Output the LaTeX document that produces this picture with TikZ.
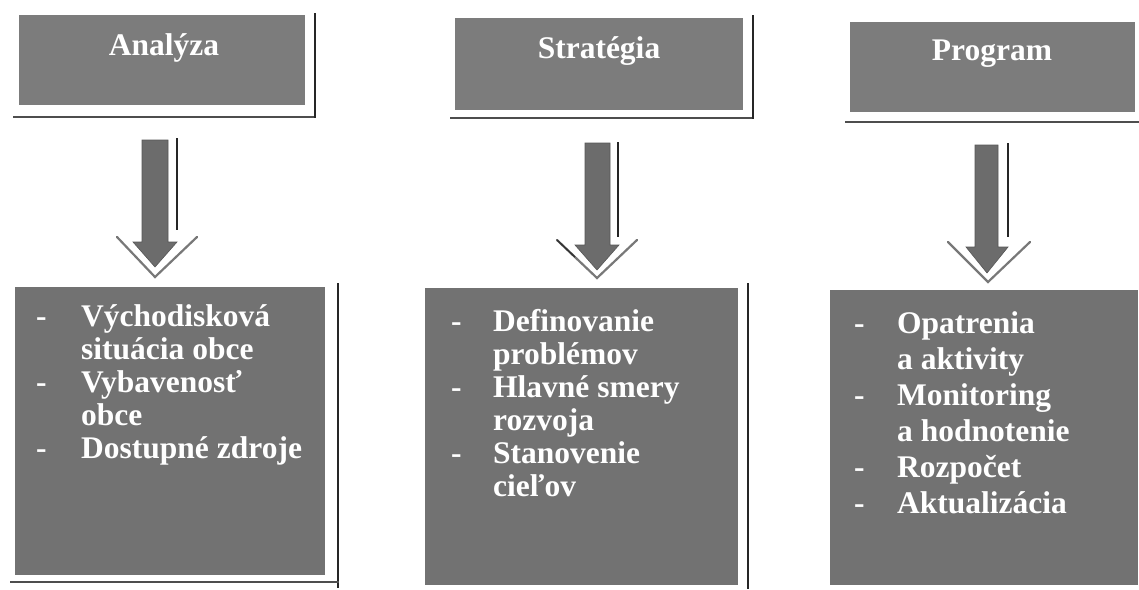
\documentclass[tikz,border=0pt]{standalone}
\usepackage{fontspec}
\setmainfont{Liberation Serif}
\usetikzlibrary{calc}
\definecolor{topgray}{RGB}{124,124,124}
\definecolor{botgray}{RGB}{114,114,114}
\definecolor{shadowgray}{RGB}{78,78,78}
\definecolor{arrowgray}{RGB}{108,108,108}
\definecolor{bevelgray}{RGB}{120,120,120}
\newcommand{\dsh}{\makebox[45pt][l]{-}}
\tikzset{
  topbox/.style={rectangle, fill=topgray, draw=none, inner sep=0pt},
  botbox/.style={rectangle, fill=botgray, draw=none, inner sep=0pt},
  toplabel/.style={text=white, inner sep=0pt, font=\bfseries\fontsize{31.5}{33}\selectfont},
  listtext/.style={text=white, inner sep=0pt, font=\bfseries\fontsize{31.5}{33}\selectfont},
  listtextwide/.style={text=white, inner sep=0pt, font=\bfseries\fontsize{31.5}{36}\selectfont},
  shadowline/.style={draw=shadowgray, line width=2.5pt},
  sideline/.style={draw=black!85, line width=2pt},
  headout/.style={fill=white, draw=none},
  headedge/.style={draw=bevelgray, line width=2.2pt, line cap=round},
  arrowbody/.style={fill=arrowgray, draw=arrowgray!80!black, line width=0.6pt, line join=miter}
}
\begin{document}
\begin{tikzpicture}[x=1pt,y=-1pt]
\useasboundingbox (0,0) rectangle (1139,589);

% ---------- top boxes ----------
\node[topbox, minimum width=286pt, minimum height=90pt] (t1) at (162,60) {};
\node[topbox, minimum width=288pt, minimum height=92pt] (t2) at (599,64) {};
\node[topbox, minimum width=285pt, minimum height=90pt] (t3) at (992.5,67) {};
\node[toplabel, anchor=base] (t1l) at (164,55) {Analýza};
\node[toplabel, anchor=base] (t2l) at (599,58) {Stratégia};
\node[toplabel, anchor=base] (t3l) at (992,60) {Program};

\draw[shadowline] (13,117) -- (316,117);
\draw[sideline] (315,13) -- (315,118);
\draw[shadowline] (450,118) -- (754,118);
\draw[sideline] (753,15) -- (753,119);
\draw[shadowline] (845,122) -- (1139,122);

% ---------- arrows ----------
% arrow 1
\coordinate (a1w) at (117,237);
\coordinate (a1e) at (197,237);
\coordinate (a1t) at (155,277);
\fill[headout] (a1w) -- (a1t) -- (a1e) -- cycle;
\draw[headedge] (a1w) -- (a1t) -- (a1e);
\draw[arrowbody] (142,140) -- (168,140) -- (168,242) -- (177,242) -- (155,267) -- (133,242) -- (142,242) -- cycle;
\draw[sideline] (177,138) -- (177,230);

% arrow 2
\coordinate (a2w) at (557,240);
\coordinate (a2e) at (637,240);
\coordinate (a2t) at (597,278);
\fill[headout] (a2w) -- (a2t) -- (a2e) -- cycle;
\draw[headedge] (a2w) -- (a2t) -- (a2e);
\draw[draw=black!80, line width=1.5pt] (a2w) -- ($(a2w)!0.45!(a2t)$);
\draw[arrowbody] (585,143) -- (610,143) -- (610,245) -- (619,245) -- (597,270) -- (575,245) -- (585,245) -- cycle;
\draw[sideline] (618,142) -- (618,237);

% arrow 3
\coordinate (a3w) at (948,242);
\coordinate (a3e) at (1030,242);
\coordinate (a3t) at (988,282);
\fill[headout] (a3w) -- (a3t) -- (a3e) -- cycle;
\draw[headedge] (a3w) -- (a3t) -- (a3e);
\draw[arrowbody] (975,145) -- (998,145) -- (998,247) -- (1008,247) -- (987,273) -- (966,247) -- (975,247) -- cycle;
\draw[sideline] (1008,143) -- (1008,237);

% ---------- bottom boxes ----------
\node[botbox, minimum width=310pt, minimum height=288pt] (b1) at (170,431) {};
\node[botbox, minimum width=313pt, minimum height=297pt] (b2) at (581.5,436.5) {};
\node[botbox, minimum width=308pt, minimum height=295pt] (b3) at (984,437.5) {};

\draw[sideline] (338,283) -- (338,588);
\draw[draw=shadowgray, line width=2pt] (10,582) -- (339,582);
\draw[sideline] (748,283) -- (748,589);

\node[listtext, anchor=base west] (l1) at (36,326) {%
\begin{tabular}[t]{@{}l@{}l@{}}
\dsh & Východisková\\
 & situácia obce\\
\dsh & Vybavenosť\\
 & obce\\
\dsh & Dostupné zdroje
\end{tabular}};

\node[listtext, anchor=base west] (l2) at (451,331) {%
\begin{tabular}[t]{@{}l@{}l@{}}
\makebox[42pt][l]{-} & Definovanie\\
 & problémov\\
\makebox[42pt][l]{-} & Hlavné smery\\
 & rozvoja\\
\makebox[42pt][l]{-} & Stanovenie\\
 & cieľov
\end{tabular}};

\node[listtextwide, anchor=base west] (l3) at (854,333) {%
\begin{tabular}[t]{@{}l@{}l@{}}
\makebox[43pt][l]{-} & Opatrenia\\
 & a aktivity\\
\makebox[43pt][l]{-} & Monitoring\\
 & a hodnotenie\\
\makebox[43pt][l]{-} & Rozpočet\\
\makebox[43pt][l]{-} & Aktualizácia
\end{tabular}};
\end{tikzpicture}
\end{document}
